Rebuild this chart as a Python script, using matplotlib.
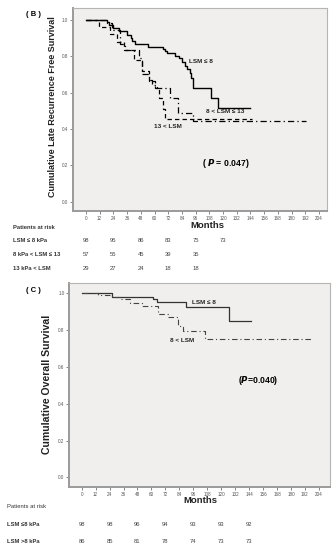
import matplotlib
matplotlib.use("Agg")
import matplotlib.pyplot as plt
import matplotlib.transforms as mtransforms

plt.rcParams['font.family'] = ['Liberation Sans', 'DejaVu Sans']

# ---------------- Data ----------------
month_ticks = list(range(0, 205, 12))
y_ticks = [0.0, 0.2, 0.4, 0.6, 0.8, 1.0]

# Panel B: late recurrence free survival
b_le8_t = [0, 18.5, 20, 24, 28.5, 36, 39, 40.5, 42.6, 54, 67, 69, 71, 78, 81, 84, 86.5, 88.5, 91, 92, 94, 109.5, 115.5, 144]
b_le8_s = [1.0, 0.99, 0.975, 0.955, 0.937, 0.915, 0.90, 0.886, 0.866, 0.853, 0.840, 0.827, 0.816, 0.803, 0.790, 0.767, 0.748, 0.730, 0.706, 0.680, 0.625, 0.573, 0.518, 0.518]

b_8to13_t = [0, 18, 23, 30, 34, 46, 49, 55, 58, 62, 73.5, 80.5, 94, 193]
b_8to13_s = [1.0, 0.985, 0.945, 0.87, 0.835, 0.79, 0.70, 0.67, 0.64, 0.625, 0.57, 0.49, 0.445, 0.445]

b_gt13_t = [0, 11, 21, 27, 33, 42, 49, 55, 60, 63.5, 67.5, 69.5, 145]
b_gt13_s = [1.0, 0.963, 0.922, 0.877, 0.835, 0.78, 0.72, 0.665, 0.625, 0.573, 0.509, 0.457, 0.457]

# Panel C: overall survival
c_le8_t = [0, 25.7, 61.5, 64.5, 90, 126.5, 146]
c_le8_s = [1.0, 0.982, 0.969, 0.952, 0.925, 0.851, 0.851]

c_gt8_t = [0, 14, 26, 34, 42, 52, 66, 74, 83, 87, 106, 199]
c_gt8_s = [1.0, 0.99, 0.98, 0.969, 0.945, 0.93, 0.886, 0.87, 0.82, 0.797, 0.752, 0.752]

# Patients at risk
b_risk_months = [0, 24, 48, 72, 96, 120]
b_risk_labels = ["LSM \u2264 8 kPa", "8 kPa < LSM \u2264 13", "13 kPa < LSM"]
b_risk_le8 = [98, 95, 86, 83, 75, 73]
b_risk_8to13 = [57, 55, 45, 39, 35]
b_risk_gt13 = [29, 27, 24, 18, 18]

c_risk_months = [0, 24, 48, 72, 96, 120, 144]
c_risk_labels = ["LSM \u22648 kPa", "LSM >8 kPa"]
c_risk_le8 = [98, 98, 96, 94, 93, 93, 92]
c_risk_gt8 = [86, 85, 81, 78, 74, 73, 73]

# ---------------- Figure ----------------
W, H = 333, 550
fig = plt.figure(figsize=(W / 100, H / 100), dpi=100)
fig.patch.set_facecolor('white')


def fx(x):
    return x / W


def fy(y):
    return 1 - y / H


def make_axes(left, right, top, bottom, xlim, ylim):
    ax = fig.add_axes([fx(left), fy(bottom), (right - left) / W, (bottom - top) / H])
    ax.set_facecolor('#f1efee')
    ax.set_xlim(*xlim)
    ax.set_ylim(*ylim)
    ax.set_xticks(month_ticks)
    ax.set_xticklabels([str(m) for m in month_ticks])
    ax.set_yticks(y_ticks)
    ax.set_yticklabels([f"{v:.1f}" for v in y_ticks])
    ax.tick_params(axis='both', labelsize=3.3, colors='#555555', length=2, width=0.5, pad=1.5)
    for side in ['left', 'bottom']:
        ax.spines[side].set_color('#9a9a9a')
        ax.spines[side].set_linewidth(1.4)
    for side in ['top', 'right']:
        ax.spines[side].set_color('#b5b5b5')
        ax.spines[side].set_linewidth(0.8)
    return ax


# ----- Panel B -----
axB = make_axes(73, 327, 8, 211, (-11.4, 211), (-0.052, 1.066))
axB.step(b_le8_t, b_le8_s, where='post', color='black', lw=1.0)
axB.step(b_8to13_t, b_8to13_s, where='post', color='black', lw=0.9,
         linestyle=(0, (5, 2.5, 1, 2.5)))
axB.step(b_gt13_t, b_gt13_s, where='post', color='black', lw=0.9,
         linestyle=(0, (3.5, 2.5)))

fig.text(fx(34), fy(15), "( B )", fontsize=5.5, fontweight='bold', ha='center', va='center')
fig.text(fx(53), fy(107), "Cumulative Late Recurrence Free Survival", fontsize=6.5,
         fontweight='bold', rotation=90, ha='center', va='center', color='#222222')
fig.text(fx(200.5), fy(61.7), "LSM \u2264 8", fontsize=4.6, fontweight='bold', ha='center', va='center', color='#222222')
fig.text(fx(225.5), fy(111.7), "8 < LSM \u2264 13", fontsize=4.6, fontweight='bold', ha='center', va='center', color='#222222')
fig.text(fx(167.5), fy(126), "13 < LSM", fontsize=4.6, fontweight='bold', ha='center', va='center', color='#222222')
fig.text(fx(226), fy(163.3), "( $\\boldsymbol{P}$ = 0.047)", fontsize=6.2, fontweight='bold', ha='center', va='center')
fig.text(fx(207), fy(226), "Months", fontsize=6.8, fontweight='bold', ha='center', va='center', color='#222222')

transB = mtransforms.blended_transform_factory(axB.transData, fig.transFigure)
fig.text(fx(12.7), fy(227.3), "Patients at risk", fontsize=4.2, fontweight='bold', ha='left', va='center', color='#333333')
b_rows_y = [241, 255, 269]
for lab, yy, vals in zip(b_risk_labels, b_rows_y, [b_risk_le8, b_risk_8to13, b_risk_gt13]):
    fig.text(fx(12.7), fy(yy), lab, fontsize=4.2, fontweight='bold', ha='left', va='center', color='#333333')
    for m, v in zip(b_risk_months, vals):
        fig.text(m, fy(yy), str(v), transform=transB, fontsize=4.2, ha='center', va='center', color='#444444')

# ----- Panel C -----
axC = make_axes(69.3, 330, 283.3, 487.3, (-10.6, 213.5), (-0.054, 1.054))
axC.step(c_le8_t, c_le8_s, where='post', color='#333333', lw=0.9)
axC.step(c_gt8_t, c_gt8_s, where='post', color='#444444', lw=0.8,
         linestyle=(0, (5, 2.5, 1, 2.5)))

fig.text(fx(33), fy(290), "( C )", fontsize=5.5, fontweight='bold', ha='center', va='center')
fig.text(fx(47), fy(384), "Cumulative Overall Survival", fontsize=7.6,
         fontweight='bold', rotation=90, ha='center', va='center', color='#222222')
fig.text(fx(204), fy(302), "LSM \u2264 8", fontsize=4.6, fontweight='bold', ha='center', va='center', color='#222222')
fig.text(fx(182.5), fy(341), "8 < LSM", fontsize=4.6, fontweight='bold', ha='center', va='center', color='#222222')
fig.text(fx(258), fy(380.7), "($\\boldsymbol{P}$=0.040)", fontsize=6.2, fontweight='bold', ha='center', va='center')
fig.text(fx(200), fy(500.7), "Months", fontsize=6.8, fontweight='bold', ha='center', va='center', color='#222222')

transC = mtransforms.blended_transform_factory(axC.transData, fig.transFigure)
fig.text(fx(7.3), fy(506.7), "Patients at risk", fontsize=4.2, ha='left', va='center', color='#333333')
c_rows_y = [524, 541.7]
for lab, yy, vals in zip(c_risk_labels, c_rows_y, [c_risk_le8, c_risk_gt8]):
    fig.text(fx(7.3), fy(yy), lab, fontsize=4.2, fontweight='bold', ha='left', va='center', color='#333333')
    for m, v in zip(c_risk_months, vals):
        fig.text(m, fy(yy), str(v), transform=transC, fontsize=4.2, ha='center', va='center', color='#444444')

fig.savefig("out.png", dpi=100, facecolor='white')
